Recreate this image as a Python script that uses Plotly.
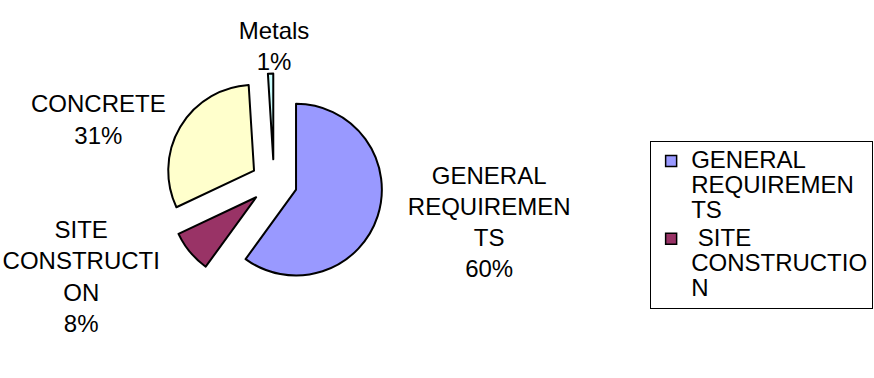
import plotly.graph_objects as go

# ---- data ----
categories = ["GENERAL REQUIREMENTS", "SITE CONSTRUCTION", "CONCRETE", "Metals"]
values = [60, 8, 31, 1]
slice_labels = ["GENERAL<br>REQUIREMEN<br>TS", "SITE<br>CONSTRUCTI<br>ON", "CONCRETE", "Metals"]
legend_labels = ["GENERAL<br>REQUIREMEN<br>TS", " SITE<br>CONSTRUCTIO<br>N"]
colors = ["#9999FF", "#993366", "#FFFFCC", "#CCFFFF"]

W, H = 874, 378
FONT = "Liberation Sans, Arial, sans-serif"

total = sum(values)
pct = [round(v / total * 100) for v in values]
# the small "Metals" slice is labelled above the pie (pie title), the others outside
texts = ["%s<br>%d%%" % (slice_labels[i], pct[i]) for i in range(3)] + [""]
top_label = "%s<br>%d%%" % (slice_labels[3], pct[3])

fig = go.Figure()
fig.add_trace(go.Pie(
    labels=categories,
    values=values,
    text=texts,
    textinfo="text",
    textposition="outside",
    textfont=dict(family=FONT, size=24, color="black"),
    title=dict(text=top_label, position="top center",
               font=dict(family=FONT, size=24, color="black")),
    marker=dict(colors=colors, line=dict(color="black", width=2)),
    pull=[0.27, 0.27, 0.27, 0.27],
    sort=False,
    direction="clockwise",
    rotation=0,
    showlegend=False,
    hoverinfo="skip",
    automargin=False,
    domain=dict(x=[0.1888, 0.4382], y=[0.2084, 0.98]),
))

def span(t):
    return "<br>".join('<span style="font-size:24px">%s</span>' % p for p in t.split("<br>"))

for i, lab in enumerate(legend_labels):
    fig.add_trace(go.Scatter(
        x=[None], y=[None], mode="markers", name=span(lab),
        marker=dict(symbol="square", size=11, color=colors[i],
                    line=dict(color="black", width=1.5)),
        hoverinfo="skip",
    ))

fig.update_layout(
    width=W, height=H,
    margin=dict(l=0, r=0, t=0, b=0, pad=0, autoexpand=False),
    paper_bgcolor="white", plot_bgcolor="white",
    font=dict(family=FONT, color="black"),
    xaxis=dict(visible=False), yaxis=dict(visible=False),
    showlegend=True,
    legend=dict(
        x=0.999, xanchor="right", y=1 - 141 / H, yanchor="top",
        font=dict(family=FONT, size=19.2, color="black"),
        bordercolor="black", borderwidth=1, bgcolor="white",
        tracegroupgap=0, itemwidth=30, valign="top",
        entrywidth=182, entrywidthmode="pixels",
    ),
    hovermode=False,
)

fig.write_html("out.html", config={"displayModeBar": False},
               post_script="document.body.style.margin='0';")
